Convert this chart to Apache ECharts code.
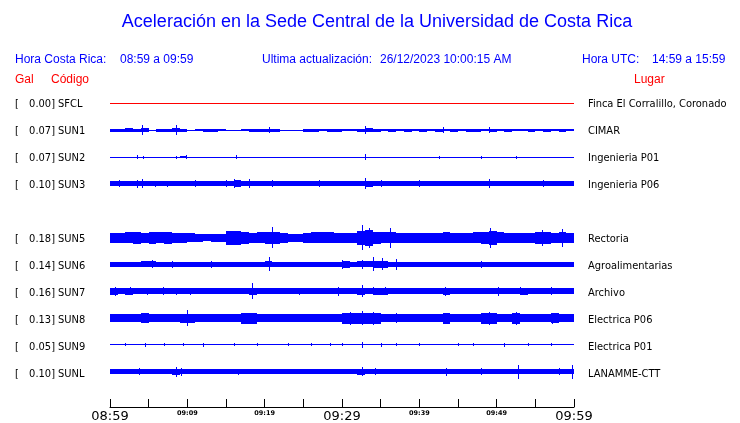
<!DOCTYPE html>
<html><head><meta charset="utf-8">
<script src="https://cdn.jsdelivr.net/npm/echarts@6/dist/echarts.min.js"></script>
<style>html,body{margin:0;padding:0;background:#fff}#c{width:740px;height:423px}</style>
</head><body><div id="c"></div>
<script>
// ---- data ----
const codes = ['SFCL','SUN1','SUN2','SUN3','SUN5','SUN6','SUN7','SUN8','SUN9','SUNL'];
const galValues = ['0.00','0.07','0.07','0.10','0.18','0.14','0.16','0.13','0.05','0.10'];
const places = ['Finca El Corralillo, Coronado','CIMAR','Ingenieria P01','Ingenieria P06','Rectoria','Agroalimentarias','Archivo','Electrica P06','Electrica P01','LANAMME-CTT'];
const rowIndex = [0,1,2,3,5,6,7,8,9,10];
const tickLabels = ['08:59','09:04','09:09','09:14','09:19','09:24','09:29','09:34','09:39','09:44','09:49','09:54','09:59'];

// envelope half-amplitude per minute (display counts)
const envSFCL = [0,0,0,0,0,0,0,0,0,0, 0,0,0,0,0,0,0,0,0,0, 0,0,0,0,0,0,0,0,0,0, 0,0,0,0,0,0,0,0,0,0, 0,0,0,0,0,0,0,0,0,0, 0,0,0,0,0,0,0,0,0,0];
const envSUN1 = [1.5,1.5,2,1.5,2,0.5,1.5,1.5,2,1.5, 0.5,1,1.5,1.5,1,0.5,0.5,1,1.5,1.5, 1.5,1.5,0.5,0.5,0.5,1.5,1.5,1,1.5,1.5, 1,1,1.5,2,1.5,1,1.5,1,1.5,1, 1.5,1,1.5,1,1.5,1,1.5,1.5,1,1.5, 1,1.5,1,1,1.5,1,1.5,1,1.5,1];
const envSUN2 = [0.5,0.5,0.5,0.5,0.5,0.5,0.5,0.5,0.5,1, 0.5,0.5,0.5,0.5,0.5,0.5,0.5,0.5,0.5,0.5, 0.5,0.5,0.5,0.5,0.5,0.5,0.5,0.5,0.5,0.5, 0.5,0.5,0.5,0.5,0.5,0.5,0.5,0.5,0.5,0.5, 0.5,0.5,0.5,0.5,0.5,0.5,0.5,0.5,0.5,0.5, 0.5,0.5,0.5,0.5,0.5,0.5,0.5,0.5,0.5,0.5];
const envSUN3 = [2.5,2.5,2.5,2.5,2.5,2.5,2.5,2.5,2.5,2.5, 2.5,2.5,2.5,2.5,2.5,2.5,3.5,2.5,2.5,2.5, 2.5,2.5,2.5,2.5,2.5,2.5,2.5,2.5,2.5,2.5, 2.5,2.5,2.5,3,2.5,2.5,2.5,2.5,2.5,2.5, 2.5,2.5,2.5,2.5,2.5,2.5,2.5,2.5,2.5,2.5, 2.5,2.5,2.5,2.5,2.5,2.5,2.5,2.5,2.5,2.5];
const envSUN5 = [5,5,5.5,6,5,6,5.5,6,5,5, 4.5,4,3.5,4,4,7,7,6,5,5.5, 6,6,5,4,4,5,5.5,5.5,5.5,5, 5,5,7,8,6,5.5,5.5,5,5,5, 5,5,5,5.5,5,5,5,5.5,6,7, 5.5,5,5,5,5,6,6,5,5.5,5];
const envSUN6 = [2.5,2.5,2.5,2.5,3,3,2.5,2.5,2.5,2.5, 2.5,2.5,2.5,2.5,2.5,2.5,2.5,2.5,2.5,2.5, 3,2.5,2.5,2.5,2.5,2.5,2.5,2.5,2.5,2.5, 3.5,2.5,3,3,3.5,3.5,2.5,2.5,2.5,2.5, 2.5,2.5,2.5,2.5,2.5,2.5,2.5,2.5,2.5,2.5, 2.5,2.5,2.5,2.5,2.5,2.5,2.5,2.5,2.5,2.5];
const envSUN7 = [3.5,3,3.5,3,3,3,3,3,3,3, 3,3,3,3,3,3,3,3,3.5,3, 3,3,3,3,3,3,3,3,3,3, 3,3,3.5,3,3.5,3.5,3,3,3,3, 3,3,3,3.5,3,3,3,3,3,3, 3,3,3,3.5,3,3,3,3,3,3];
const envSUN8 = [4,4,4,4,5,4,4,4,4,4.5, 4.5,4,4,4,4,4,4,5.5,5.5,4, 4,4,4,4,4,4,4,4,4,4, 5.5,5.5,5.5,5.5,5.5,4,4,4,4,4, 4,4,4,5.5,4,4,4,4,5.5,5.5, 4,4,5.5,4,4,4,4,5,4,4];
const envSUN9 = [0.5,0.5,0.5,0.5,0.5,0.5,0.5,0.5,0.5,0.5, 0.5,0.5,0.5,0.5,0.5,0.5,0.5,0.5,0.5,0.5, 0.5,0.5,0.5,0.5,0.5,0.5,0.5,0.5,0.5,0.5, 0.5,0.5,0.5,0.5,0.5,0.5,0.5,0.5,0.5,0.5, 0.5,0.5,0.5,0.5,0.5,0.5,0.5,0.5,0.5,0.5, 0.5,0.5,0.5,0.5,0.5,0.5,0.5,0.5,0.5,0.5];
const envSUNL = [2.5,2.5,2.5,2.5,2.5,2.5,2.5,2.5,3,2.5, 2.5,2.5,2.5,2.5,2.5,2.5,2.5,2.5,2.5,2.5, 2.5,2.5,2.5,2.5,2.5,2.5,2.5,2.5,2.5,2.5, 2.5,2.5,3,2.5,2.5,2.5,2.5,2.5,2.5,2.5, 2.5,2.5,2.5,2.5,2.5,2.5,2.5,2.5,2.5,2.5, 2.5,2.5,2.5,2.5,2.5,2.5,2.5,2.5,2.5,2.5];

// spikes [minute, half-amplitude]
const spkSFCL = [];
const spkSUN1 = [[4.2,5],[8.5,5],[20.6,3],[33,4],[43,3],[49,3]];
const spkSUN2 = [[3.5,2],[4.3,1.5],[8.5,1.5],[9.8,2],[16.3,2],[33,3],[42.5,1.5],[48,1.5],[52.5,1.5]];
const spkSUN3 = [[1.2,3.5],[3.5,4],[4.2,4.5],[5.8,3],[7.4,3],[11,3.5],[15,3.5],[16,4.5],[18,4.5],[21,3.5],[27,3.5],[33,5.5],[35,3.5],[40,3.5],[49,4.5],[56,3.5]];
const spkSUN5 = [[21,11],[32.6,13],[33.5,10],[36.2,10],[49.2,10],[55.8,8],[58.5,9]];
const spkSUN6 = [[5.4,4],[8,3.5],[13,3.5],[20.5,7],[30,4.5],[32.6,4.5],[34,7],[35.2,6],[37,5.5],[48,3.5]];
const spkSUN7 = [[0.6,4.5],[2.6,4],[4.8,3.5],[6.8,4],[8.5,3.5],[10.3,3.5],[18.4,8],[24.5,3.5],[29.5,4.5],[32.6,6],[34,4],[35.5,4],[43.3,4.5],[50.2,4.5],[53,4],[57,4]];
const spkSUN8 = [[4.3,5],[10,8],[31,6.5],[32.6,7],[34,6.5],[37,5],[43.3,5.5],[49,6.5],[52.5,6.5],[57.2,5.5]];
const spkSUN9 = [[2,1.5],[4.5,2],[7,1.5],[9.5,1.5],[12,2],[16,1.5],[19,1.5],[23,1.5],[26,1.5],[28.5,1.5],[30,1.5],[32.6,3],[35,2],[37,1.5],[40,1.5],[45,1.5],[47,1.5],[51,2],[54,1.5],[57,1.5]];
const spkSUNL = [[3.8,3.5],[8.5,5],[9.2,4],[16.5,3],[32.6,4.5],[34.3,3.5],[43.5,4],[48,3.5],[52.8,7],[58,3.5],[59.8,7]];

const envs = [envSFCL,envSUN1,envSUN2,envSUN3,envSUN5,envSUN6,envSUN7,envSUN8,envSUN9,envSUNL];
const spikes = [spkSFCL,spkSUN1,spkSUN2,spkSUN3,spkSUN5,spkSUN6,spkSUN7,spkSUN8,spkSUN9,spkSUNL];

// ---- chart ----
const ROW_PX = 27;
const gain = 1 / ROW_PX;
const BLUE = '#0000ff';
const chart = echarts.init(document.getElementById('c'), null, {renderer:'canvas'});

function traceSeries(i) {
  const row = rowIndex[i];
  const color = i === 0 ? '#ff0000' : BLUE;
  const data = [];
  envs[i].forEach((a, m) => data.push([m, m + 1, row, a]));
  spikes[i].forEach(s => data.push([s[0], s[0], row, s[1]]));
  return {
    type: 'custom', silent: true, animation: false,
    encode: {x: [0, 1], y: 2},
    data,
    renderItem(params, api) {
      const t0 = api.value(0), t1 = api.value(1), r = api.value(2), a = api.value(3);
      const top = api.coord([t0, r - a * gain]);
      const bot = api.coord([t1, r + a * gain]);
      const base = api.coord([t0, r]);
      let y = Math.round(top[1]);
      let h = Math.round(bot[1]) - y;
      if (h < 1) { h = 1; y = Math.floor(base[1]); }
      if (t1 > t0) {
        const x0 = Math.round(top[0]), x1 = Math.round(bot[0]);
        return {type: 'rect', shape: {x: x0, y: y, width: x1 - x0, height: h}, style: {fill: color}};
      }
      return {type: 'rect', shape: {x: Math.round(top[0]), y: y, width: 1, height: h}, style: {fill: color}};
    }
  };
}

const graphics = [];
function txt(x, y, s, font, fill, align) {
  graphics.push({type: 'text', x, y, silent: true, style: {text: s, font, fill, textAlign: align || 'left', textVerticalAlign: 'middle'}});
}
txt(377, 22, 'Aceleración en la Sede Central de la Universidad de Costa Rica', '18px "Liberation Sans", Arial, sans-serif', BLUE, 'center');
const hf = '12px "Liberation Sans", Arial, sans-serif';
txt(15, 60, 'Hora Costa Rica:', hf, BLUE);
txt(120, 60, '08:59 a 09:59', hf, BLUE);
txt(262, 60, 'Ultima actualización:', hf, BLUE);
txt(380, 60, '26/12/2023 10:00:15 AM', hf, BLUE);
txt(582, 60, 'Hora UTC:', hf, BLUE);
txt(652, 60, '14:59 a 15:59', hf, BLUE);
txt(15, 80, 'Gal', hf, '#ff0000');
txt(51, 80, 'Código', hf, '#ff0000');
txt(634, 80, 'Lugar', hf, '#ff0000');
const lf = '11px "DejaVu Sans Condensed", "DejaVu Sans", sans-serif';
codes.forEach((c, i) => {
  const y = 104 + rowIndex[i] * ROW_PX;
  txt(15, y, '[', lf, '#000');
  txt(55, y, galValues[i] + ']', lf, '#000', 'right');
  txt(58, y, c, lf, '#000');
  txt(588, y, places[i], lf, '#000');
});

chart.setOption({
  animation: false,
  grid: {left: 110, right: 166, top: 90, bottom: 14, containLabel: false},
  xAxis: {
    type: 'value', min: 0, max: 60, interval: 5, position: 'bottom',
    axisLine: {show: true, onZero: false, lineStyle: {color: '#000', width: 1}},
    axisTick: {show: true, inside: true, length: 8, lineStyle: {color: '#000'}},
    splitLine: {show: false},
    axisLabel: {
      margin: 3,
      formatter: v => {
        const s = tickLabels[Math.round(v / 5)];
        if (v % 30 === 0) return '{big|' + s + '}';
        if (v % 10 === 0) return '{sm|' + s + '}';
        return '';
      },
      rich: {
        big: {fontFamily: 'DejaVu Sans', fontSize: 13, color: '#000'},
        sm: {fontFamily: 'DejaVu Sans', fontSize: 6.5, fontWeight: 'bold', color: '#000', verticalAlign: 'top', padding: [0,0,6,0]}
      }
    }
  },
  yAxis: {type: 'value', inverse: true, min: -0.5, max: 11.815 - 0.5, show: false},
  graphic: graphics,
  series: codes.map((c, i) => traceSeries(i))
});
</script></body></html>
